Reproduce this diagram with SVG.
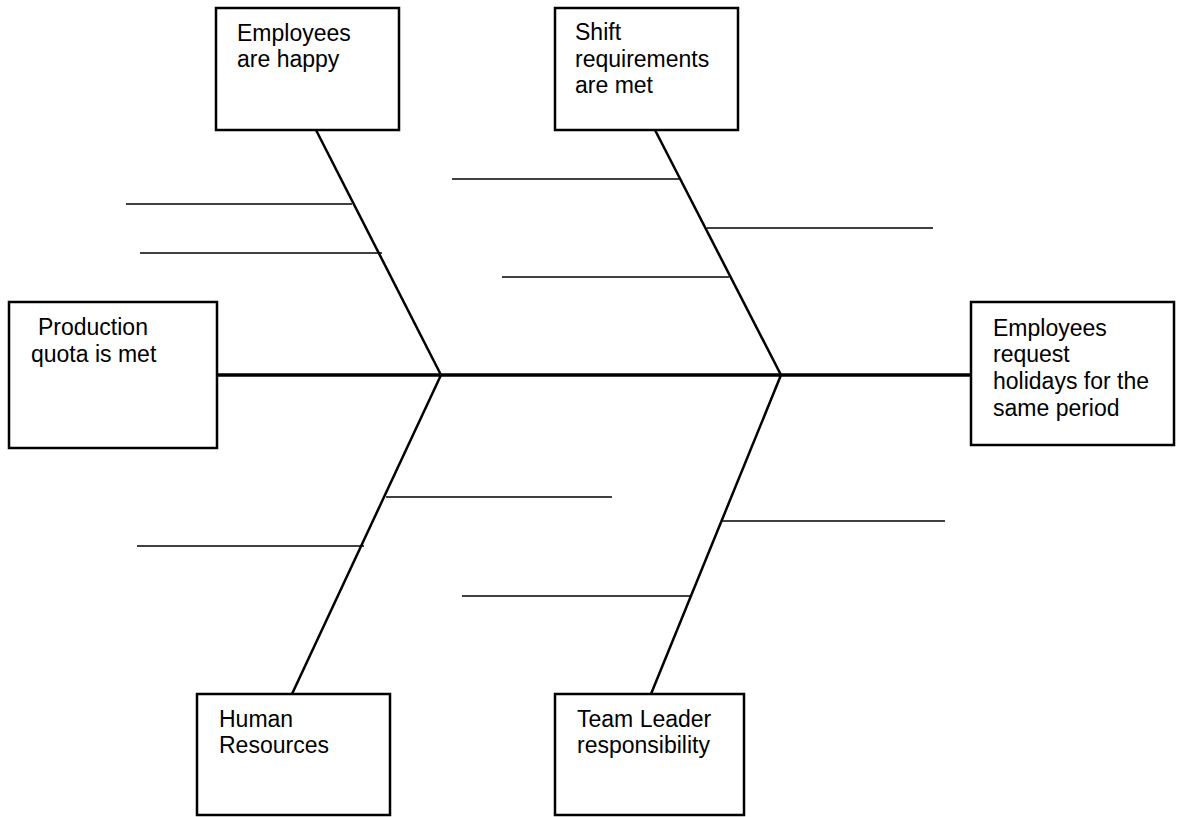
<svg xmlns="http://www.w3.org/2000/svg" width="1179" height="817" viewBox="0 0 1179 817">
<style>
.box{fill:#fff;stroke:#000;stroke-width:2.5}
.t{font-family:"Liberation Sans",Arial,sans-serif;font-size:23px;fill:#000}
.spine{stroke:#000;stroke-width:3.5;fill:none}
.bone{stroke:#000;stroke-width:2.5;fill:none}
.rib{stroke:#000;stroke-width:1.5;fill:none}
</style>
<rect width="1179" height="817" fill="#fff"/>
<g id="connectors">
<line class="spine" x1="217" y1="375" x2="971" y2="375"/>
<line class="bone" x1="316" y1="130" x2="441" y2="375"/>
<line class="bone" x1="655" y1="130" x2="781" y2="375"/>
<line class="bone" x1="441" y1="375" x2="292" y2="694"/>
<line class="bone" x1="781" y1="375" x2="651" y2="694"/>
<line class="rib" x1="126" y1="204" x2="352" y2="204"/>
<line class="rib" x1="140" y1="253" x2="382" y2="253"/>
<line class="rib" x1="452" y1="179" x2="679" y2="179"/>
<line class="rib" x1="707" y1="228" x2="933" y2="228"/>
<line class="rib" x1="502" y1="277" x2="729" y2="277"/>
<line class="rib" x1="386" y1="497" x2="612" y2="497"/>
<line class="rib" x1="137" y1="546" x2="364" y2="546"/>
<line class="rib" x1="721" y1="521" x2="945" y2="521"/>
<line class="rib" x1="462" y1="596" x2="690" y2="596"/>
</g>
<g id="node-employees-happy">
<rect class="box" x="216" y="8" width="183" height="122"/>
<text class="t" x="237" y="41">Employees</text>
<text class="t" x="237" y="67">are happy</text>
</g>
<g id="node-shift">
<rect class="box" x="555" y="8" width="183" height="122"/>
<text class="t" x="575" y="40">Shift</text>
<text class="t" x="575" y="67">requirements</text>
<text class="t" x="575" y="93">are met</text>
</g>
<g id="node-production">
<rect class="box" x="9" y="302" width="208" height="146"/>
<text class="t" x="38" y="335">Production</text>
<text class="t" x="31" y="362">quota is met</text>
</g>
<g id="node-effect">
<rect class="box" x="971" y="302" width="203" height="143"/>
<text class="t" x="993" y="336">Employees</text>
<text class="t" x="993" y="362">request</text>
<text class="t" x="993" y="389">holidays for the</text>
<text class="t" x="993" y="416">same period</text>
</g>
<g id="node-hr">
<rect class="box" x="197" y="694" width="193" height="121"/>
<text class="t" x="219" y="727">Human</text>
<text class="t" x="219" y="753">Resources</text>
</g>
<g id="node-team-leader">
<rect class="box" x="555" y="694" width="189" height="121"/>
<text class="t" x="577" y="727">Team Leader</text>
<text class="t" x="577" y="753">responsibility</text>
</g>
</svg>
